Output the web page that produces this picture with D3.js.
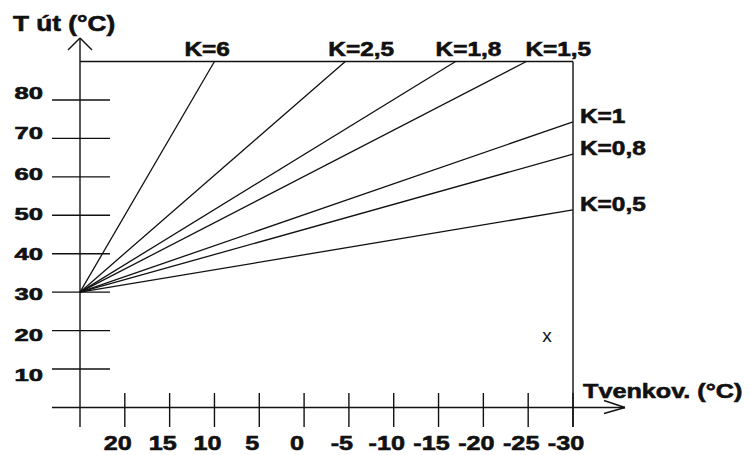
<!DOCTYPE html>
<html>
<head>
<meta charset="utf-8">
<script src="https://cdn.jsdelivr.net/npm/d3@7"></script>
<style>
  body { margin: 0; background: #fff; }
  text { font-family: "Liberation Sans", Arial, sans-serif; fill: #111; }
  text.heavy { stroke: #111; stroke-width: 0.6px; }
</style>
</head>
<body>
<div id="chart"></div>
<script>
// heating curves, all starting at the same point
const kLabels = ["K=6", "K=2,5", "K=1,8", "K=1,5", "K=1", "K=0,8", "K=0,5"];
const endOut = [10, -4.6, -16.9, -24.8, -30, -30, -30];
const endFlow = [90, 90, 90, 90, 74.3, 65.9, 51.4];
const startOut = 25;
const startFlow = 30;

const xTicks = [20, 15, 10, 5, 0, -5, -10, -15, -20, -25, -30];
const yTicks = [10, 20, 30, 40, 50, 60, 70, 80];

const yTitle = "T út (°C)";
const xTitle = "Tvenkov. (°C)";
const markText = "x";
const markOut = -27.1;
const markFlow = 18.3;

const width = 751;
const height = 455;

const svg = d3.select("#chart")
  .append("svg")
  .attr("width", width)
  .attr("height", height);

const x = d3.scaleLinear().domain([25, -30]).range([80, 573]);
const y = d3.scaleLinear().domain([0, 90]).range([407.5, 61.5]);
// the printed numbers drift a bit from their ticks
const yLabel = d3.scaleLinear().domain([10, 80]).range([375, 93]);

const ink = "#111";

function line(x1, y1, x2, y2, w) {
  svg.append("line")
    .attr("x1", x1).attr("y1", y1)
    .attr("x2", x2).attr("y2", y2)
    .attr("stroke", ink)
    .attr("stroke-width", w || 1.4);
}

// wide bold lettering, stretched horizontally
function wideText(str, tx, ty, size, sx, anchor, weight) {
  return svg.append("text")
    .attr("class", weight ? null : "heavy")
    .attr("transform", `translate(${tx},${ty}) scale(${sx},1)`)
    .attr("text-anchor", anchor || "start")
    .attr("font-size", size)
    .attr("font-weight", weight || "bold")
    .text(str);
}

// axes
line(x(25), 427, x(25), 38);
line(x(25) - 12, 50, x(25), 38);
line(x(25) + 12, 50, x(25), 38);

line(52, y(0), 625, y(0));
line(604, y(0) - 7, 625, y(0));
line(604, y(0) + 6, 625, y(0));

// frame top and right
line(x(25), y(90), x(-30), y(90));
line(x(-30), y(90), x(-30), 427);

// y ticks
yTicks.forEach(v => {
  line(52, y(v), 110, y(v));
  wideText(String(v), 43, yLabel(v) + 6, 16.5, 1.55, "end");
});

// x ticks
xTicks.forEach(v => {
  line(x(v), 393, x(v), 427);
  wideText(String(v), x(v) - 7, 450, 21, 1.2, "middle");
});

// titles
wideText(yTitle, 13, 31, 21.5, 1.22, "start");
wideText(xTitle, 583, 398, 21, 1.2, "start");

// curves
const topShift = [-30, -17, -20, -1];
kLabels.forEach((k, i) => {
  line(x(startOut), y(startFlow), x(endOut[i]), y(endFlow[i]), 1.3);
  if (endFlow[i] >= 90) {
    wideText(k, x(endOut[i]) + topShift[i], 56, 20, 1.22, "start");
  } else {
    wideText(k, x(-30) + 7, y(endFlow[i]) + 1, 20, 1.22, "start");
  }
});

wideText(markText, x(markOut), y(markFlow) + 5, 19, 1, "middle", "normal");
</script>
</body>
</html>
